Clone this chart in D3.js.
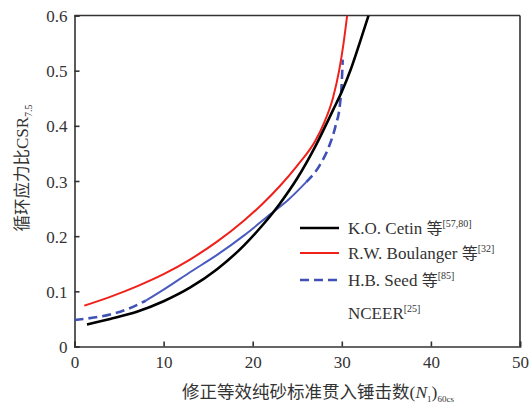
<!DOCTYPE html>
<html><head><meta charset="utf-8">
<script src="https://cdn.jsdelivr.net/npm/d3@7"></script>
<style>
body{margin:0;background:#fff;}
text{font-family:"Liberation Serif","Times New Roman",serif;fill:#333;}
.cjk{font-family:"Noto Sans CJK SC",sans-serif;}
</style></head><body>
<svg id="chart" width="531" height="404"></svg>
<script>
// ---- data ----
const xTicks = [0,10,20,30,40,50];
const yTicks = [0,0.1,0.2,0.3,0.4,0.5,0.6];
const cetin = [[1.4,0.040],[4,0.050],[7,0.063],[10,0.082],[13,0.107],[16,0.140],[19,0.183],[21,0.218],[23,0.258],[25,0.305],[27,0.362],[29,0.428],[30,0.462],[31,0.502],[32,0.55],[33,0.6]];
const boulanger = [[1.1,0.074],[4,0.090],[7,0.109],[10,0.131],[13,0.158],[16,0.190],[19,0.228],[21,0.257],[23,0.290],[25,0.328],[27,0.372],[28,0.405],[29,0.450],[29.7,0.50],[30.2,0.55],[30.6,0.60]];
const seedLow = [[0,0.048],[2,0.052],[4,0.058],[6,0.068],[8,0.083]];
const nceer = [[8,0.083],[10,0.103],[13,0.135],[16,0.166],[19,0.201],[22,0.240],[24,0.266],[26,0.298]];
const seedHigh = [[26,0.298],[27.5,0.328],[28.5,0.360],[29.3,0.400],[29.8,0.440],[30.0,0.480],[30.1,0.520]];
const legendItems = [
  {name:"K.O. Cetin 等", ref:"[57,80]", color:"#000", width:2.6, dash:null},
  {name:"R.W. Boulanger 等", ref:"[32]", color:"#f0201a", width:2, dash:null},
  {name:"H.B. Seed 等", ref:"[85]", color:"#3f51b5", width:2.6, dash:"9,5"},
  {name:"NCEER", ref:"[25]", color:null}
];

// ---- layout ----
const svg = d3.select("#chart");
const L=74.5, R=520, T=15.5, B=346.5;
const x = d3.scaleLinear().domain([0,50]).range([L,R]);
const y = d3.scaleLinear().domain([0,0.6]).range([B,T]);

// axes
const ax = svg.append("g").attr("transform",`translate(0,${B})`)
  .call(d3.axisBottom(x).tickValues(xTicks).tickSize(-5).tickPadding(9).tickFormat(d3.format("d")));
const ay = svg.append("g").attr("transform",`translate(${L},0)`)
  .call(d3.axisLeft(y).tickValues(yTicks).tickSize(-5).tickPadding(7).tickFormat(d=>d===0?"0":d3.format(".1f")(d)));
[ax,ay].forEach(g=>{
  g.attr("font-family","Liberation Serif").attr("font-size",17);
  g.select(".domain").attr("stroke","#333").attr("stroke-width",1.6);
  g.selectAll(".tick line").attr("stroke","#333").attr("stroke-width",1.6);
  g.selectAll(".tick text").attr("fill","#333");
});
ay.selectAll(".tick text").attr("dy","0.36em");
// box top/right
svg.append("line").attr("x1",L).attr("x2",R).attr("y1",T).attr("y2",T).attr("stroke","#333").attr("stroke-width",1.6);
svg.append("line").attr("x1",R).attr("x2",R).attr("y1",T).attr("y2",B).attr("stroke","#333").attr("stroke-width",1.6);

// curves
const line = d3.line().x(d=>x(d[0])).y(d=>y(d[1])).curve(d3.curveMonotoneX);
svg.append("clipPath").attr("id","clip").append("rect").attr("x",L).attr("y",T).attr("width",R-L).attr("height",B-T);
const plot = svg.append("g").attr("clip-path","url(#clip)");
plot.append("path").datum(nceer).attr("d",line).attr("fill","none").attr("stroke","#4a5bbf").attr("stroke-width",2);
plot.append("path").datum(seedLow).attr("d",line).attr("fill","none").attr("stroke","#3f51b5").attr("stroke-width",2.6).attr("stroke-dasharray","9,5");
plot.append("path").datum(seedHigh).attr("d",line).attr("fill","none").attr("stroke","#3f51b5").attr("stroke-width",2.6).attr("stroke-dasharray","9,5");
plot.append("path").datum(boulanger).attr("d",line).attr("fill","none").attr("stroke","#f0201a").attr("stroke-width",2);
plot.append("path").datum(cetin).attr("d",line).attr("fill","none").attr("stroke","#000").attr("stroke-width",2.6);

// legend
const lg = svg.append("g");
const rowsY = [228,253,280,313];
legendItems.forEach((it,i)=>{
  const yy = rowsY[i];
  if(it.color){
    lg.append("line").attr("x1",300).attr("x2",339).attr("y1",yy).attr("y2",yy)
      .attr("stroke",it.color).attr("stroke-width",it.width).attr("stroke-dasharray",it.dash);
  }
  const t = lg.append("text").attr("x",348).attr("y",yy+6).style("font-size","17px");
  const parts = it.name.split("等");
  t.append("tspan").text(parts[0]);
  if(it.name.includes("等")) t.append("tspan").attr("class","cjk").style("font-size","16px").text("等");
  t.append("tspan").attr("dy",-7).style("font-size","10px").text(it.ref);
});

// y title
const yt = svg.append("text").attr("transform","translate(28,168) rotate(-90)").attr("text-anchor","middle").style("font-size","17px");
yt.append("tspan").attr("class","cjk").style("font-size","16.5px").text("循环应力比");
yt.append("tspan").text("CSR");
yt.append("tspan").attr("dy",4).style("font-size","10px").text("7.5");

// x title
const xt = svg.append("text").attr("x",318).attr("y",398).attr("text-anchor","middle").style("font-size","17.5px");
xt.append("tspan").attr("class","cjk").style("font-size","17.5px").text("修正等效纯砂标准贯入锤击数");
xt.append("tspan").text("(");
xt.append("tspan").style("font-style","italic").text("N");
xt.append("tspan").attr("dy",4).style("font-size","9px").text("1");
xt.append("tspan").attr("dy",-4).text(")");
xt.append("tspan").attr("dy",4).style("font-size","9px").text("60cs");
</script>
</body></html>
